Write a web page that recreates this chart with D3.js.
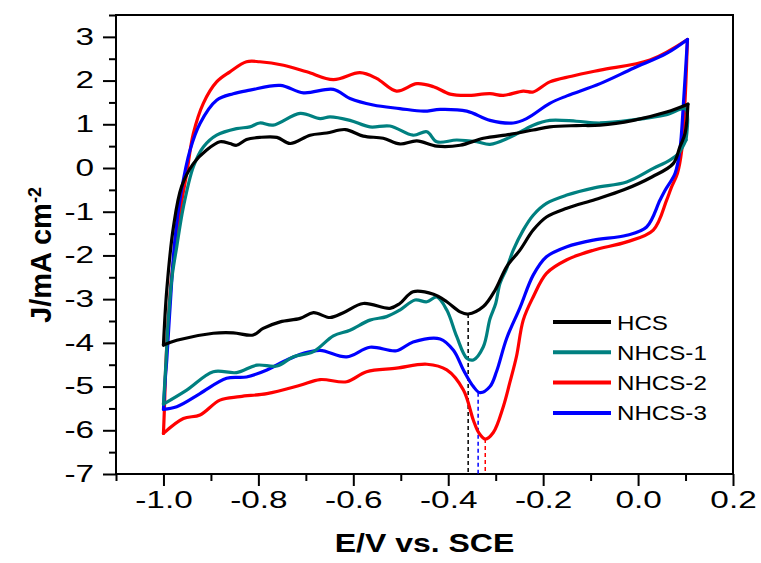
<!DOCTYPE html>
<html>
<head>
<meta charset="utf-8">
<script src="https://cdnjs.cloudflare.com/ajax/libs/d3/7.8.5/d3.min.js"></script>
<style>
body { margin: 0; background: #fff; }
text { font-family: "Liberation Sans", Arial, sans-serif; fill: #000; }
</style>
</head>
<body>
<svg></svg>
<script>
// CV curves, [E (V vs SCE), J (mA cm-2)], anodic sweep first then back
var hcs = [[-1.0, -4.05], [-0.993, -2.79], [-0.979, -1.35], [-0.962, -0.43], [-0.937, 0.10],
    [-0.909, 0.41], [-0.881, 0.60], [-0.860, 0.56], [-0.846, 0.52], [-0.825, 0.65], [-0.797, 0.70],
    [-0.761, 0.70], [-0.733, 0.56], [-0.691, 0.75], [-0.656, 0.80], [-0.617, 0.88], [-0.579, 0.73],
    [-0.537, 0.68], [-0.502, 0.55], [-0.466, 0.62], [-0.424, 0.50], [-0.375, 0.52], [-0.326, 0.68],
    [-0.270, 0.77], [-0.221, 0.87], [-0.186, 0.94], [-0.13, 0.97], [-0.08, 0.98], [-0.01, 1.09],
    [0.06, 1.28], [0.105, 1.46],
    [0.099, 0.79], [0.088, 0.48], [0.074, 0.10], [0.03, -0.20], [-0.03, -0.50], [-0.09, -0.72],
    [-0.150, -0.92], [-0.193, -1.12], [-0.221, -1.42], [-0.249, -1.88], [-0.277, -2.26],
    [-0.301, -2.79], [-0.326, -3.17], [-0.358, -3.34], [-0.375, -3.29], [-0.403, -3.06],
    [-0.431, -2.89], [-0.474, -2.83], [-0.502, -3.10], [-0.523, -3.21], [-0.579, -3.10],
    [-0.621, -3.31], [-0.649, -3.42], [-0.684, -3.31], [-0.712, -3.44], [-0.754, -3.52],
    [-0.790, -3.67], [-0.811, -3.82], [-0.853, -3.77], [-0.895, -3.78], [-0.972, -3.94], [-1.0, -4.05]]

var nhcs1 = [[-1.0, -5.40], [-0.995, -4.5], [-0.99, -3.5], [-0.982, -2.5], [-0.972, -1.8],
    [-0.958, -0.89], [-0.937, 0.03], [-0.916, 0.48], [-0.888, 0.75], [-0.846, 0.90], [-0.818, 0.94],
    [-0.797, 1.03], [-0.769, 0.98], [-0.712, 1.25], [-0.670, 1.13], [-0.649, 1.17], [-0.607, 1.09],
    [-0.565, 0.94], [-0.523, 0.96], [-0.474, 0.75], [-0.445, 0.83], [-0.424, 0.60], [-0.382, 0.64],
    [-0.340, 0.60], [-0.312, 0.54], [-0.270, 0.70], [-0.221, 0.98], [-0.186, 1.09], [-0.13, 1.07],
    [-0.08, 1.03], [-0.01, 1.10], [0.06, 1.22], [0.10, 1.35],
    [0.101, 0.64], [0.085, 0.33], [0.067, 0.18], [0.032, -0.01], [-0.024, -0.32], [-0.09, -0.45],
    [-0.150, -0.62], [-0.193, -0.81], [-0.221, -1.08], [-0.242, -1.42], [-0.263, -1.88],
    [-0.277, -2.30], [-0.291, -2.64], [-0.30, -3.10], [-0.312, -3.45], [-0.326, -4.09],
    [-0.347, -4.39], [-0.361, -4.35], [-0.382, -3.86], [-0.403, -3.25], [-0.424, -2.95],
    [-0.445, -3.06], [-0.470, -3.02], [-0.502, -3.25], [-0.530, -3.40], [-0.565, -3.48],
    [-0.607, -3.71], [-0.642, -3.84], [-0.684, -4.20], [-0.726, -4.32], [-0.761, -4.53],
    [-0.803, -4.51], [-0.846, -4.68], [-0.895, -4.66], [-0.951, -5.08], [-1.0, -5.40]]

var nhcs2 = [[-1.0, -6.07], [-0.998, -5.5], [-0.995, -4.5], [-0.99, -3.5], [-0.983, -2.5],
    [-0.972, -1.6], [-0.962, -0.8], [-0.951, -0.12], [-0.937, 0.79], [-0.916, 1.48], [-0.888, 1.97],
    [-0.860, 2.20], [-0.825, 2.43], [-0.797, 2.43], [-0.747, 2.35], [-0.698, 2.20], [-0.642, 2.02],
    [-0.586, 2.18], [-0.551, 2.05], [-0.509, 1.76], [-0.466, 1.93], [-0.431, 1.86], [-0.396, 1.69],
    [-0.361, 1.66], [-0.312, 1.70], [-0.284, 1.66], [-0.242, 1.76], [-0.221, 1.74], [-0.186, 1.97],
    [-0.14, 2.10], [-0.08, 2.24], [0.025, 2.47], [0.104, 2.94],
    [0.099, 1.55], [0.092, 0.41], [0.083, -0.12], [0.07, -0.45], [0.06, -0.74], [0.032, -1.42],
    [-0.024, -1.69], [-0.094, -1.88], [-0.150, -2.10], [-0.193, -2.41], [-0.221, -2.95],
    [-0.242, -3.48], [-0.256, -4.30], [-0.270, -4.90], [-0.284, -5.46], [-0.305, -6.05],
    [-0.322, -6.20], [-0.336, -6.05], [-0.347, -5.77], [-0.368, -5.08], [-0.403, -4.62],
    [-0.445, -4.49], [-0.509, -4.58], [-0.572, -4.66], [-0.614, -4.89], [-0.670, -4.84],
    [-0.712, -4.97], [-0.782, -5.16], [-0.839, -5.23], [-0.881, -5.31], [-0.923, -5.65],
    [-0.958, -5.73], [-1.0, -6.07]]

var nhcs3 = [[-1.0, -5.52], [-0.996, -4.8], [-0.993, -4.39], [-0.986, -3.17], [-0.976, -1.65],
    [-0.962, -0.51], [-0.944, 0.41], [-0.923, 1.02], [-0.888, 1.55], [-0.853, 1.70], [-0.818, 1.78],
    [-0.754, 1.89], [-0.705, 1.72], [-0.642, 1.80], [-0.607, 1.59], [-0.558, 1.44], [-0.502, 1.36],
    [-0.452, 1.30], [-0.417, 1.34], [-0.361, 1.30], [-0.312, 1.09], [-0.263, 1.03], [-0.235, 1.13],
    [-0.186, 1.48], [-0.15, 1.65], [-0.08, 1.93], [-0.01, 2.28], [0.06, 2.62], [0.104, 2.94],
    [0.096, 1.55], [0.088, 0.41], [0.078, -0.12], [0.057, -0.51], [0.046, -0.74], [0.018, -1.35],
    [-0.024, -1.54], [-0.094, -1.65], [-0.150, -1.80], [-0.193, -2.03], [-0.221, -2.45],
    [-0.249, -3.20], [-0.277, -3.90], [-0.298, -4.65], [-0.312, -5.00], [-0.333, -5.14],
    [-0.347, -5.00], [-0.368, -4.62], [-0.389, -4.17], [-0.417, -3.91], [-0.474, -3.98],
    [-0.509, -4.18], [-0.565, -4.10], [-0.614, -4.32], [-0.670, -4.17], [-0.705, -4.24],
    [-0.740, -4.39], [-0.782, -4.62], [-0.825, -4.78], [-0.867, -4.81], [-0.923, -5.16],
    [-0.972, -5.46], [-1.0, -5.52]]

var seriesNames = ["HCS", "NHCS-1", "NHCS-2", "NHCS-3"]
var seriesColors = ["#000000", "#008080", "#ff0000", "#0000ff"]
var seriesData = [hcs, nhcs1, nhcs2, nhcs3]
var drawOrder = [2, 3, 1, 0]

// reduction peak markers (dashed drop lines)
var peakE = [-0.358, -0.337, -0.322]
var peakJ = [-3.34, -5.14, -6.20]
var peakColors = ["#000000", "#0000ff", "#ff0000"]

var xMajor = [-1.0, -0.8, -0.6, -0.4, -0.2, 0.0, 0.2]
var xMinor = [-1.1, -0.9, -0.7, -0.5, -0.3, -0.1, 0.1]
var yMajor = [-7, -6, -5, -4, -3, -2, -1, 0, 1, 2, 3]
var yMinor = [-6.5, -5.5, -4.5, -3.5, -2.5, -1.5, -0.5, 0.5, 1.5, 2.5, 3.5]

var margin = { top: 15, right: 28, bottom: 89, left: 116 },
    width = 761 - margin.left - margin.right,
    height = 563 - margin.top - margin.bottom

var svg = d3.select("svg")
    .attr("width", 761)
    .attr("height", 563)
    .append("g")
    .attr("transform", "translate(" + margin.left + "," + margin.top + ")")

var xScale = d3.scaleLinear().domain([-1.1, 0.2]).range([0, width])
var yScale = d3.scaleLinear().domain([-7, 3.5]).range([height, 0])

var sx = 1.45  // tick labels in the picture are drawn wide

var xAxis = svg.append("g")
    .attr("transform", "translate(0," + height + ")")
    .call(d3.axisBottom(xScale).tickValues(xMajor).tickSize(12).tickPadding(6)
        .tickFormat(d => d.toFixed(1)))
svg.append("g")
    .attr("transform", "translate(0," + height + ")")
    .call(d3.axisBottom(xScale).tickValues(xMinor).tickSize(7).tickFormat(""))

var yAxis = svg.append("g")
    .call(d3.axisLeft(yScale).tickValues(yMajor).tickSize(13).tickPadding(9)
        .tickFormat(d => String(d)))
svg.append("g")
    .call(d3.axisLeft(yScale).tickValues(yMinor).tickSize(7).tickFormat(""))

svg.selectAll(".domain").remove()
svg.selectAll(".tick line").attr("stroke", "#000").attr("stroke-width", 2)

xAxis.selectAll("text")
    .style("font-size", "23px")
    .attr("dy", "0.71em")
    .attr("y", 18)
    .attr("transform", "scale(" + sx + ",1)")

yAxis.selectAll("text")
    .style("font-size", "23px")
    .attr("x", -22 / sx)
    .attr("transform", "scale(" + sx + ",1)")

// frame
svg.append("rect")
    .attr("width", width)
    .attr("height", height)
    .attr("fill", "none")
    .attr("stroke", "#000")
    .attr("stroke-width", 2)

// dashed drop lines
peakE.forEach((e, i) => {
    svg.append("line")
        .attr("x1", xScale(e)).attr("x2", xScale(e))
        .attr("y1", yScale(peakJ[i])).attr("y2", height)
        .attr("stroke", peakColors[i])
        .attr("stroke-width", 1.5)
        .attr("stroke-dasharray", "4,3")
})

var line = d3.line()
    .x(d => xScale(d[0]))
    .y(d => yScale(d[1]))
    .curve(d3.curveCatmullRom.alpha(0.5))

// each loop drawn as two sweeps so the turning corner stays sharp
drawOrder.forEach(i => {
    var data = seriesData[i]
    var turn = d3.maxIndex(data, d => d[0])
    var sweeps = [data.slice(0, turn + 1), data.slice(turn)]
    sweeps.forEach(part => {
        svg.append("path")
            .datum(part)
            .attr("fill", "none")
            .attr("stroke", seriesColors[i])
            .attr("stroke-width", 3.2)
            .attr("stroke-linejoin", "round")
            .attr("stroke-linecap", "round")
            .attr("d", line)
    })
})

// legend
var legend = svg.append("g").attr("transform", "translate(437,307)")
seriesNames.forEach((name, i) => {
    var row = legend.append("g").attr("transform", "translate(0," + (i * 30.3) + ")")
    row.append("line")
        .attr("x1", 0).attr("x2", 58)
        .attr("stroke", seriesColors[i])
        .attr("stroke-width", 4)
    row.append("text")
        .attr("x", 64 / 1.15)
        .attr("dy", "0.36em")
        .attr("transform", "scale(1.15,1)")
        .style("font-size", "21px")
        .text(name)
})

// axis titles
svg.append("text")
    .attr("text-anchor", "middle")
    .attr("transform", "translate(" + (width / 2) + "," + (height + 78) + ") scale(1.28,1)")
    .style("font-size", "25px")
    .style("font-weight", "bold")
    .text("E/V vs. SCE")

var yTitle = svg.append("text")
    .attr("text-anchor", "middle")
    .attr("transform", "translate(" + (51 - margin.left) + ",240) rotate(-90)")
    .style("font-size", "29px")
    .style("font-weight", "bold")
yTitle.append("tspan").text("J/mA cm")
yTitle.append("tspan")
    .attr("dy", "-0.55em")
    .style("font-size", "18px")
    .text("-2")
</script>
</body>
</html>
